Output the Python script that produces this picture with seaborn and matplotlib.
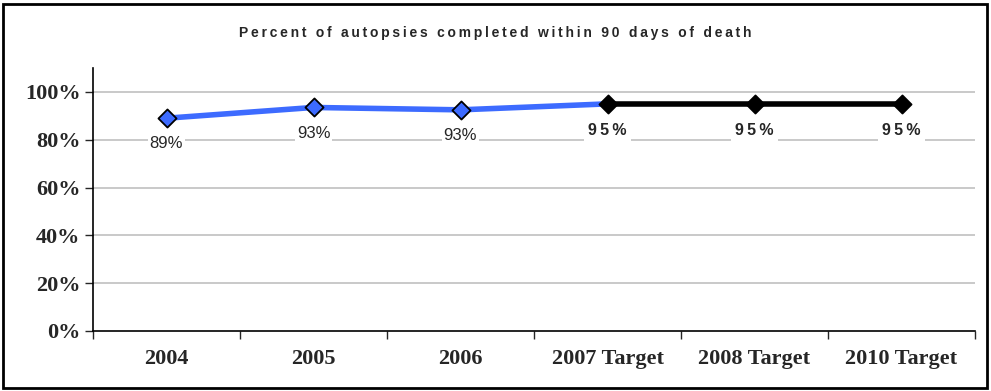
import matplotlib
matplotlib.use("Agg")
import matplotlib.pyplot as plt
import seaborn as sns
import pandas as pd
from matplotlib.ticker import PercentFormatter
from matplotlib.patches import Rectangle

categories = ['2004', '2005', '2006', '2007 Target', '2008 Target', '2010 Target']
actual_years = ['2004', '2005', '2006', '2007 Target']
actual_vals = [0.89, 0.935, 0.925, 0.95]
actual_labels = ['89%', '93%', '93%']
target_years = ['2007 Target', '2008 Target', '2010 Target']
target_vals = [0.95, 0.95, 0.95]
target_labels = ['95%', '95%', '95%']
title = 'Percent of autopsies completed within 90 days of death'

sns.set_style('white')
plt.rcParams['font.family'] = ['Liberation Sans', 'DejaVu Sans']

fig = plt.figure(figsize=(9.91, 3.91), dpi=100)
ax = fig.add_axes([93 / 991, 1 - 331 / 391, 882 / 991, 263 / 391])

pos = {c: i for i, c in enumerate(categories)}
act = pd.DataFrame({'x': [pos[c] for c in actual_years], 'y': actual_vals})
tgt = pd.DataFrame({'x': [pos[c] for c in target_years], 'y': target_vals})

sns.lineplot(data=act, x='x', y='y', ax=ax, color='#3d6bff', lw=4, zorder=3)
sns.scatterplot(data=act.iloc[:3], x='x', y='y', ax=ax, marker='D', s=85,
                color='#3d6bff', edgecolor='black', linewidth=1.3, zorder=5)
sns.lineplot(data=tgt, x='x', y='y', ax=ax, color='black', lw=4, zorder=4)
sns.scatterplot(data=tgt, x='x', y='y', ax=ax, marker='D', s=85,
                color='black', edgecolor='black', linewidth=1.3, zorder=5)

thin = '\u2009'
for x, y, t in zip(act['x'][:3], act['y'][:3], actual_labels):
    ax.annotate(t, (x, y), xytext=(0, -13), textcoords='offset points',
                ha='center', va='top', fontsize=12,
                bbox=dict(facecolor='white', edgecolor='none', pad=1), zorder=6)
for x, y, t in zip(tgt['x'], tgt['y'], target_labels):
    ax.annotate(thin.join(t), (x, y), xytext=(0, -14), textcoords='offset points',
                ha='center', va='top', fontsize=11.5, fontweight='bold',
                bbox=dict(facecolor='white', edgecolor='none', pad=3), zorder=6)

ax.set_xlim(-0.5, 5.5)
ax.set_ylim(0, 1.1)
ax.set_yticks([0, 0.2, 0.4, 0.6, 0.8, 1.0])
ax.yaxis.set_major_formatter(PercentFormatter(1.0, decimals=0))
ax.set_xticks([i + 0.5 for i in range(-1, 6)], minor=False)
ax.set_xticklabels([])
ax.set_xticks(range(len(categories)), minor=True)
ax.set_xticklabels(categories, minor=True)
ax.tick_params(axis='x', which='minor', length=0, pad=13)
ax.tick_params(axis='x', which='major', length=6, width=1, direction='out', bottom=True)
ax.tick_params(axis='y', length=6, width=1, direction='out', left=True, pad=3)
for lab in ax.get_xticklabels(minor=True) + ax.get_yticklabels():
    lab.set_family(['Liberation Serif'])
    lab.set_fontweight('bold')
    lab.set_fontsize(16)

ax.grid(axis='y', color='#c0c0c0', lw=1.2)
ax.set_axisbelow(True)
for g in ax.get_ygridlines()[:1]:
    g.set_visible(False)
for s in ['top', 'right']:
    ax.spines[s].set_visible(False)
for s in ['left', 'bottom']:
    ax.spines[s].set_color('black')
    ax.spines[s].set_linewidth(1.2)
ax.set_xlabel('')
ax.set_ylabel('')

fig.text(0.5, 1 - 33 / 391, thin.join(title),
         ha='center', va='center', fontsize=10, fontweight='bold')
fig.patches.append(Rectangle((3 / 991, 3 / 391), 984 / 991, 384 / 391, transform=fig.transFigure,
                             fill=False, edgecolor='black', lw=2, figure=fig))

fig.savefig('out.png', dpi=100)
